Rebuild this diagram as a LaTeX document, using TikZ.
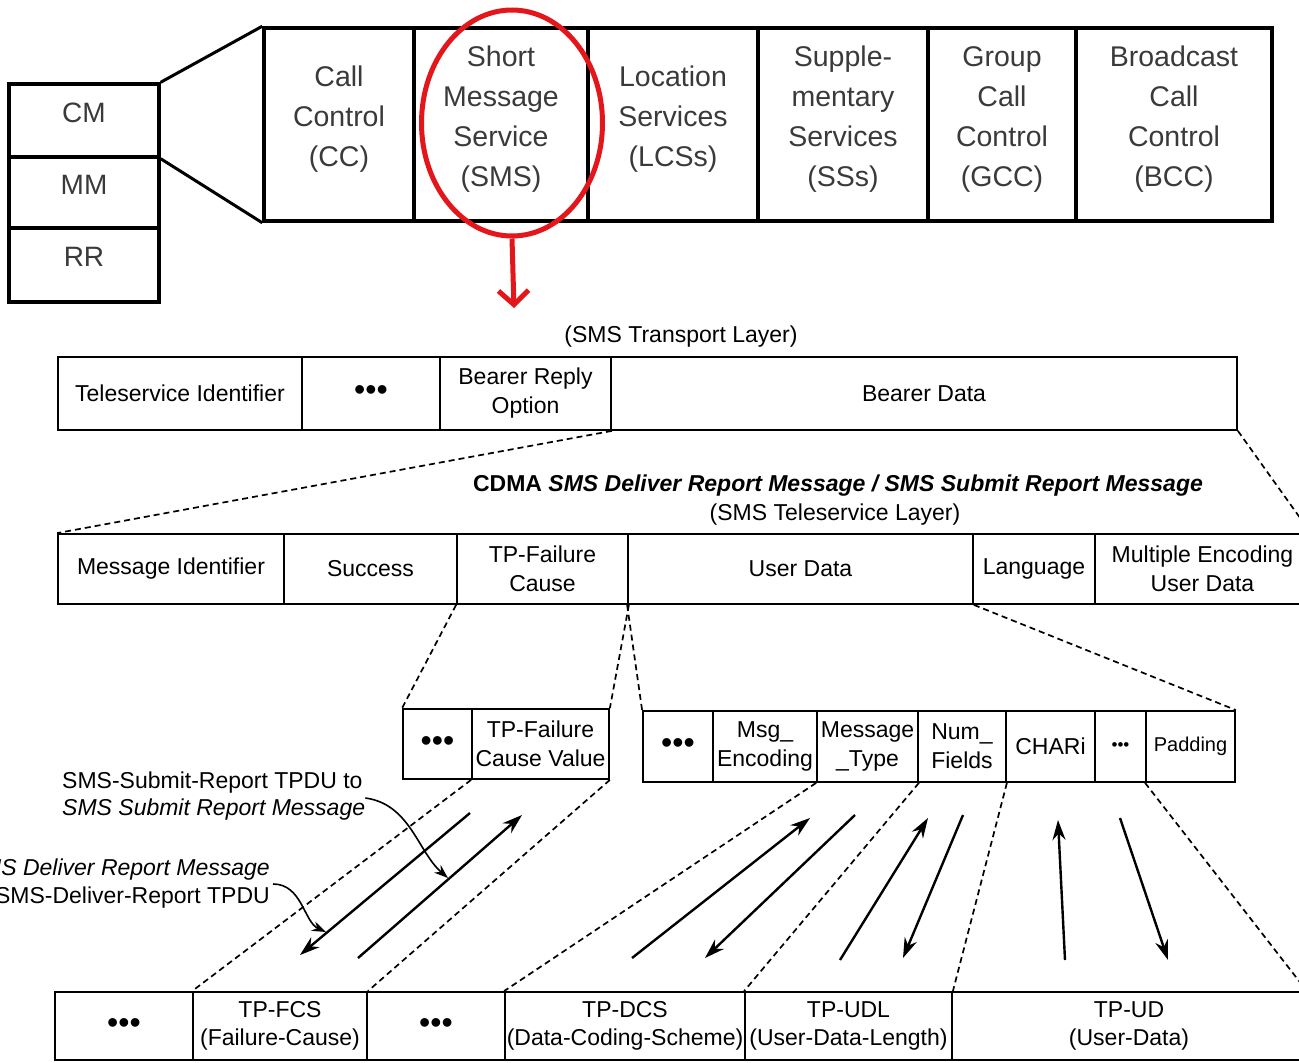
\documentclass[tikz,border=0pt]{standalone}
\usepackage{fontspec}
\setmainfont{Liberation Sans}
\usetikzlibrary{arrows.meta,shapes.geometric}
\definecolor{inkgray}{HTML}{3A3A3A}
\definecolor{markred}{HTML}{E3161B}

\begin{document}
\begin{tikzpicture}[x=1pt, y=-1pt, >={Stealth[length=20pt,width=13pt]}]
\useasboundingbox (0,0) rectangle (1299,1063);

% GSM layer stack and CM sublayer
\tikzstyle{every node}=[draw, line width=3.5pt, inner sep=0pt, align=center, text=inkgray, font=\fontsize{28}{40}\selectfont, text depth=16pt]
\draw    (84,  120.5)  node[minimum width=150pt, minimum height=73pt] (cm)  {CM}
         (84,  192.5)  node[minimum width=150pt, minimum height=71pt] (mm)  {MM}
         (84,  265)    node[minimum width=150pt, minimum height=74pt] (rr)  {RR};

\tikzstyle{every node}=[draw, line width=3.5pt, inner sep=0pt, align=center, text=inkgray, font=\fontsize{28.5}{40}\selectfont, minimum height=193pt, text depth=16pt]
\draw    (339,  124.5) node[minimum width=150pt] (cc)  {Call\\Control\\(CC)}
         (501,  124.5) node[minimum width=174pt] (sms) {Short\\Message\\Service\\(SMS)}
         (673,  124.5) node[minimum width=170pt] (lcs) {Location\\Services\\(LCSs)}
         (843,  124.5) node[minimum width=170pt] (ss)  {Supple-\\mentary\\Services\\(SSs)}
         (1002, 124.5) node[minimum width=148pt] (gcc) {Group\\Call\\Control\\(GCC)}
         (1174, 124.5) node[minimum width=196pt] (bcc) {Broadcast\\Call\\Control\\(BCC)};

\draw[line width=3pt] (cm.north east) -- (cc.north west);
\draw[line width=3pt] (cm.south east) -- (cc.south west);

% red mark
\tikzstyle{every node}=[]
\node[ellipse, draw=markred, line width=5pt, minimum width=181pt, minimum height=226pt] (ring) at (512,123) {};
\coordinate (down) at (514,308);
\draw[markred, line width=5pt, -{Straight Barb[length=14pt,width=30pt]}] (ring.south) -- (down);

% SMS transport layer
\node[font=\fontsize{23}{28}\selectfont] (trlabel) at (681,337) {(SMS Transport Layer)};

\tikzstyle{every node}=[draw, line width=1.8pt, inner sep=0pt, align=center, font=\fontsize{23}{29}\selectfont, minimum height=73pt]
\draw    (180,   393.5) node[minimum width=244pt] (ti)  {Teleservice Identifier}
         (371,   393.5) node[minimum width=138pt, font=\fontsize{32}{32}\selectfont] (dots1) {•••}
         (525.5, 393.5) node[minimum width=171pt] (bro) {Bearer Reply\\Option}
         (924,   393.5) node[minimum width=626pt] (bd)  {Bearer Data};

% SMS teleservice layer
\tikzstyle{every node}=[]
\node[font=\bfseries\fontsize{23}{28}\selectfont] (tslabel) at (838,486) {CDMA \textit{SMS Deliver Report Message / SMS Submit Report Message}};
\node[font=\fontsize{23}{28}\selectfont] (tslayer) at (835,515) {(SMS Teleservice Layer)};

\tikzstyle{every node}=[draw, line width=1.8pt, inner sep=0pt, align=center, font=\fontsize{23}{29}\selectfont, minimum height=70pt]
\draw    (171,    569)  node[minimum width=226pt] (mi)   {Message Identifier}
         (370.5,  569)  node[minimum width=173pt] (suc)  {Success}
         (542.5,  569)  node[minimum width=171pt] (tpfc) {TP-Failure\\Cause}
         (800.5,  569)  node[minimum width=345pt] (ud)   {User Data}
         (1034,   569)  node[minimum width=122pt] (lang) {Language}
         (1202.5, 569)  node[minimum width=215pt] (meud) {Multiple Encoding\\User Data};

% subparameters
\draw    (437.5,  744)  node[minimum width=69pt, font=\fontsize{32}{32}\selectfont] (dots2) {•••}
         (540.5,  744)  node[minimum width=137pt] (fcv)  {TP-Failure\\Cause Value};

\tikzstyle{every node}=[draw, line width=1.8pt, inner sep=0pt, align=center, font=\fontsize{23}{29}\selectfont, minimum height=71pt]
\draw    (678,    746.5) node[minimum width=70pt, font=\fontsize{32}{32}\selectfont] (dots3) {•••}
         (765,    746.5) node[minimum width=104pt] (menc)  {Msg\_\\Encoding}
         (867.5,  746.5) node[minimum width=101pt] (mtype) {Message\\\_Type}
         (962,    746.5) node[minimum width=88pt]  (nf)    {Num\_\\Fields}
         (1050.5, 746.5) node[minimum width=89pt]  (chari) {CHARi}
         (1120.5, 746.5) node[minimum width=51pt, font=\fontsize{17}{17}\selectfont] (dots4) {•••}
         (1190.5, 746.5) node[minimum width=89pt, font=\fontsize{20}{24}\selectfont] (pad) {Padding};

% GSM TPDU fields
\tikzstyle{every node}=[draw, line width=1.8pt, inner sep=0pt, align=center, font=\fontsize{23}{28}\selectfont, minimum height=68pt]
\draw    (124,    1026) node[minimum width=138pt, font=\fontsize{32}{32}\selectfont] (dots5) {•••}
         (280,    1026) node[minimum width=174pt] (fcs)  {TP-FCS\\(Failure-Cause)}
         (436,    1026) node[minimum width=138pt, font=\fontsize{32}{32}\selectfont] (dots6) {•••}
         (625,    1026) node[minimum width=240pt] (dcs)  {TP-DCS\\(Data-Coding-Scheme)}
         (848.5,  1026) node[minimum width=207pt] (udl)  {TP-UDL\\(User-Data-Length)}
         (1129,   1026) node[minimum width=354pt] (tpud) {TP-UD\\(User-Data)};

% zoom lines
\tikzstyle{every node}=[]
\tikzstyle{zoom}=[line width=1.7pt, dash pattern=on 6pt off 4pt]
\draw[zoom] (bro.south east)   -- (mi.north west);
\draw[zoom] (bd.south east)    -- (meud.north east);
\draw[zoom] (tpfc.south west)  -- (dots2.north west);
\draw[zoom] (tpfc.south east)  -- (fcv.north east);
\draw[zoom] (ud.south west)    -- (dots3.north west);
\draw[zoom] (ud.south east)    -- (pad.north east);
\draw[zoom] (fcv.south west)   -- (fcs.north west);
\draw[zoom] (fcv.south east)   -- (fcs.north east);
\draw[zoom] (mtype.south west) -- (dcs.north west);
\draw[zoom] (mtype.south east) -- (udl.north west);
\draw[zoom] (nf.south east)    -- (udl.north east);
\draw[zoom] (pad.south west)   -- (tpud.north east);

% mapping arrows
\coordinate (fcsA) at (470,813);   \coordinate (fcsB) at (300,955);
\coordinate (fcsC) at (358,958);   \coordinate (fcsD) at (522,815);
\coordinate (dcsA) at (632,958);   \coordinate (dcsB) at (810,818);
\coordinate (dcsC) at (855,815);   \coordinate (dcsD) at (705,958);
\coordinate (udlA) at (840,960);   \coordinate (udlB) at (928,818);
\coordinate (udlC) at (963,815);   \coordinate (udlD) at (903,958);
\coordinate (tpudA) at (1065,960); \coordinate (tpudB) at (1058,820);
\coordinate (tpudC) at (1120,818); \coordinate (tpudD) at (1168,960);

\tikzstyle{map}=[->, line width=2.4pt]
\draw[map] (fcsA) -- (fcsB);
\draw[map] (fcsC) -- (fcsD);
\draw[map] (dcsA) -- (dcsB);
\draw[map] (dcsC) -- (dcsD);
\draw[map] (udlA) -- (udlB);
\draw[map] (udlC) -- (udlD);
\draw[map] (tpudA) -- (tpudB);
\draw[map] (tpudC) -- (tpudD);

% notes
\node[align=left, anchor=west, inner sep=0pt, font=\fontsize{23}{27}\selectfont] (subnote) at (62,796) {SMS-Submit-Report TPDU to\\\textit{SMS Submit Report Message}};
\node[align=right, anchor=east, inner sep=0pt, font=\fontsize{23}{28}\selectfont] (delnote) at (270,884) {\textit{SMS Deliver Report Message}\\SMS-Deliver-Report TPDU};

\coordinate (subtip) at (448,878);
\coordinate (deltip) at (326,932);
\draw[line width=1.6pt, -{Stealth[length=14pt,width=10pt]}] ([yshift=-2pt]subnote.east) .. controls (410,804) and (418,852) .. (subtip);
\draw[line width=1.6pt, -{Stealth[length=14pt,width=10pt]}] ([xshift=3pt]delnote.east) .. controls (302,884) and (304,922) .. (deltip);

\end{tikzpicture}
\end{document}
